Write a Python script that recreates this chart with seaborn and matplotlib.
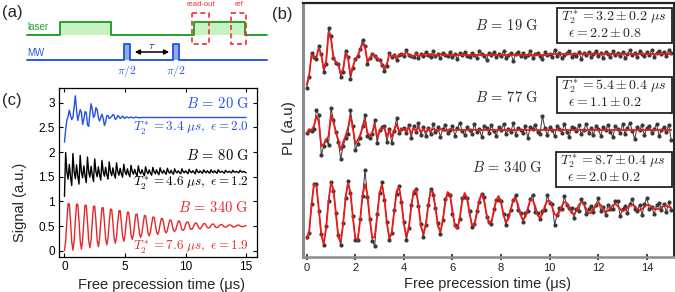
import numpy as np
import pandas as pd
import matplotlib
matplotlib.use("Agg")
import matplotlib.pyplot as plt
import seaborn as sns
from matplotlib.patches import Rectangle, FancyArrowPatch

# ---------------------------------------------------------------- data
# (c) simulated signal, sampled every 0.1 us, 0 .. 15 us
sim_fields = ["20", "80", "340"]
sim_T2 = ["3.4", "4.6", "7.6"]
sim_eps = ["2.0", "1.2", "1.9"]
sim_20G = [
    2.20, 2.45, 2.65, 2.72, 2.85, 2.74, 2.66, 2.70, 2.92, 3.14,
    2.85, 2.64, 2.75, 2.86, 2.80, 2.56, 2.66, 2.82, 2.80, 2.55,
    2.52, 2.78, 2.98, 2.86, 2.70, 2.74, 2.90, 2.86, 2.70, 2.63,
    2.70, 2.77, 2.68, 2.54, 2.60, 2.74, 2.74, 2.68, 2.70, 2.72,
    2.76, 2.74, 2.66, 2.68, 2.74, 2.72, 2.68, 2.70, 2.73, 2.70,
    2.68, 2.71, 2.71, 2.69, 2.70, 2.71, 2.70, 2.69, 2.70, 2.71,
    2.70, 2.70, 2.69, 2.70, 2.70, 2.70, 2.70, 2.70, 2.70, 2.70,
    2.70, 2.70, 2.70, 2.70, 2.70, 2.70, 2.70, 2.70, 2.70, 2.70,
    2.70, 2.70, 2.70, 2.70, 2.70, 2.70, 2.70, 2.70, 2.70, 2.70,
    2.70, 2.70, 2.70, 2.70, 2.70, 2.70, 2.70, 2.70, 2.70, 2.70,
    2.70, 2.70, 2.70, 2.70, 2.70, 2.70, 2.70, 2.70, 2.70, 2.70,
    2.70, 2.70, 2.70, 2.70, 2.70, 2.70, 2.70, 2.70, 2.70, 2.70,
    2.70, 2.70, 2.70, 2.70, 2.70, 2.70, 2.70, 2.70, 2.70, 2.70,
    2.70, 2.70, 2.70, 2.70, 2.70, 2.70, 2.70, 2.70, 2.70, 2.70,
    2.70, 2.70, 2.70, 2.70, 2.70, 2.70, 2.70, 2.70, 2.70, 2.70,
    2.70]
sim_80G = [
    1.10, 1.99, 1.60, 1.45, 1.75, 1.50,
    1.32, 1.97, 1.60, 1.46, 1.74, 1.51,
    1.35, 1.93, 1.60, 1.48, 1.72, 1.52,
    1.38, 1.90, 1.60, 1.49, 1.71, 1.53,
    1.40, 1.86, 1.60, 1.50, 1.70, 1.54,
    1.43, 1.83, 1.60, 1.51, 1.69, 1.54,
    1.45, 1.80, 1.60, 1.52, 1.68, 1.55,
    1.47, 1.78, 1.60, 1.53, 1.67, 1.56,
    1.49, 1.75, 1.60, 1.54, 1.66, 1.56,
    1.50, 1.73, 1.60, 1.55, 1.65, 1.57,
    1.51, 1.72, 1.60, 1.56, 1.64, 1.57,
    1.52, 1.70, 1.60, 1.56, 1.64, 1.57,
    1.53, 1.69, 1.60, 1.56, 1.64, 1.58,
    1.54, 1.68, 1.60, 1.57, 1.63, 1.58,
    1.55, 1.67, 1.60, 1.57, 1.63, 1.58,
    1.55, 1.66, 1.60, 1.58, 1.62, 1.58,
    1.56, 1.66, 1.60, 1.58, 1.62, 1.59,
    1.56, 1.65, 1.60, 1.58, 1.62, 1.59,
    1.56, 1.65, 1.60, 1.58, 1.62, 1.59,
    1.57, 1.64, 1.60, 1.58, 1.62, 1.59,
    1.57, 1.64, 1.60, 1.58, 1.62, 1.59,
    1.57, 1.64, 1.60, 1.59, 1.61, 1.59,
    1.57, 1.63, 1.60, 1.59, 1.61, 1.59,
    1.58, 1.63, 1.60, 1.59, 1.61, 1.59,
    1.58, 1.63, 1.60, 1.59, 1.61, 1.59,
    1.58]
sim_340G = [
    0.00, 0.19, 0.61, 0.95, 0.95, 0.61, 0.19,
    0.01, 0.20, 0.61, 0.94, 0.94, 0.61, 0.20,
    0.03, 0.21, 0.60, 0.92, 0.92, 0.60, 0.21,
    0.06, 0.22, 0.60, 0.90, 0.90, 0.60, 0.22,
    0.08, 0.24, 0.59, 0.87, 0.87, 0.59, 0.24,
    0.12, 0.26, 0.58, 0.84, 0.84, 0.58, 0.26,
    0.15, 0.29, 0.58, 0.81, 0.81, 0.58, 0.29,
    0.19, 0.31, 0.57, 0.78, 0.78, 0.57, 0.31,
    0.23, 0.33, 0.56, 0.74, 0.74, 0.56, 0.33,
    0.27, 0.36, 0.55, 0.71, 0.71, 0.55, 0.36,
    0.30, 0.38, 0.54, 0.68, 0.68, 0.54, 0.38,
    0.33, 0.40, 0.54, 0.65, 0.65, 0.54, 0.40,
    0.36, 0.41, 0.53, 0.62, 0.62, 0.53, 0.41,
    0.39, 0.43, 0.52, 0.60, 0.60, 0.52, 0.43,
    0.41, 0.44, 0.52, 0.58, 0.58, 0.52, 0.44,
    0.43, 0.46, 0.52, 0.56, 0.56, 0.52, 0.46,
    0.44, 0.47, 0.51, 0.55, 0.55, 0.51, 0.47,
    0.46, 0.47, 0.51, 0.54, 0.54, 0.51, 0.47,
    0.47, 0.48, 0.51, 0.53, 0.53, 0.51, 0.48,
    0.48, 0.48, 0.51, 0.52, 0.52, 0.51, 0.48,
    0.48, 0.49, 0.50, 0.52, 0.52, 0.50, 0.49,
    0.49, 0.49, 0.50, 0.51]

# (b) measured PL (a.u., arbitrary zero), sampled every 0.1 us, 0 .. 15 us
meas_fields = ["19", "77", "340"]
meas_T2 = ["3.2 \\pm 0.2", "5.4 \\pm 0.4", "8.7 \\pm 0.4"]
meas_eps = ["2.2 \\pm 0.8", "1.1 \\pm 0.2", "2.0 \\pm 0.2"]
pl_19G = [
    -33, -22, 2, -2, -4, 9, 1, -17, -9, 27,
    19, -3, -8, -9, -22, -17, 4, -2, -24, -13,
    -4, -1, 6, 15, 9, -9, -3, 1, -1, -4,
    -5, -10, -16, -11, 2, -2, 0, -5, 0, 1,
    -1, 5, 0, -1, -2, 2, -3, 1, -1, 3,
    0, -2, 4, -1, 1, -3, 2, 0, -1, 3,
    -2, 1, -4, 2, 0, 3, -1, -2, 2, 0,
    -3, 4, 1, -1, -5, 2, 0, 3, -2, 1,
    -1, 4, -3, 0, 2, -6, 1, 3, -1, 2,
    -2, 0, 4, -3, 1, 2, -1, -4, 3, 0,
    1, -2, 5, -1, 2, -3, 0, 2, 4, -2,
    1, -1, 3, -4, 2, 0, 3, -2, 1, 4,
    -1, 2, -3, 3, 1, -2, 4, 0, 2, -1,
    3, -3, 1, 5, 0, 2, -2, 4, 1, -1,
    3, 0, 5, -2, 2, 4, 1, 3, -1, 5,
    2]
fit_19G = [
    -30, -20, 0, -2, -2, 7, 0, -14, -6, 22,
    16, -2, -7, -9, -19, -14, 2, -3, -20, -12,
    -4, -1, 5, 12, 8, -7, -3, 1, -1, -3,
    -5, -9, -13, -9, 1, -2, 0, -3, 0, 1,
    0, 3, 0, -1, -1, 1, -1, 0, 1, -1,
    0, 1, 0, -1, 0, 1, 0, 0, 0, 0,
    0, 0, 0, 0, 0, 0, 0, 0, 0, 0,
    0, 0, 0, 0, 0, 0, 0, 0, 0, 0,
    0, 0, 0, 0, 0, 0, 0, 0, 0, 0,
    0, 0, 0, 0, 0, 0, 0, 0, 0, 0,
    1, 1, 1, 1, 1, 1, 1, 1, 1, 1,
    1, 1, 1, 1, 1, 1, 1, 1, 1, 1,
    1, 1, 1, 1, 1, 1, 1, 1, 1, 1,
    1, 1, 1, 1, 1, 1, 1, 1, 1, 1,
    1, 1, 1, 1, 1, 1, 1, 1, 1, 1,
    1]
pl_77G = [
    -3, 0, -1, 1, 20, 15, -25, -16, -10, -15,
    22, 10, -2, -12, -29, -16, -8, -4, 20, 4,
    -20, -14, -8, 4, 15, -6, -8, -4, 10, -13,
    0, 3, 4, -12, 1, -13, -1, 12, -3, 1,
    2, -3, 5, -8, 4, -2, 7, -5, 3, -6,
    2, -4, 6, -2, 3, -7, 1, 5, -3, 0,
    4, -6, 2, 7, -1, -5, 3, 0, -4, 6,
    -2, 1, -7, 4, 2, -3, 5, -1, -6, 3,
    0, 6, -4, 1, -2, 7, -5, 2, 0, -3,
    4, -8, 3, 1, 5, -2, -4, 14, 2, -5,
    3, 0, -6, 4, 1, -3, 6, -2, -7, 3,
    2, -1, 5, -4, 0, 6, -3, 2, -5, 4,
    1, -6, 3, 0, 5, -2, -7, 4, 1, -3,
    6, -4, 2, 7, -1, -9, 3, 0, 5, -5,
    2, 4, -3, 1, 6, -6, 0, 3, -2, 5,
    -10]
fit_77G = [
    -3, 0, 0, 4, 14, 8, -16, -14, -10, -6,
    15, 8, -2, -10, -20, -12, -6, 2, 14, 2,
    -14, -10, -5, 3, 10, -3, -6, -2, 6, -8,
    -1, 2, 2, -7, 0, -7, 0, 6, -2, 1,
    1, -2, 3, -4, 2, -1, 3, -2, 1, -2,
    1, -1, 1, 0, -1, 1, 0, -1, 0, 1,
    0, 0, 0, 0, 0, 0, 0, 0, 0, 0,
    0, 0, 0, 0, 0, 0, 0, 0, 0, 0,
    0, 0, 0, 0, 0, 0, 0, 0, 0, 0,
    0, 0, 0, 0, 0, 0, 0, 0, 0, 0,
    0, 0, 0, 0, 0, 0, 0, 0, 0, 0,
    0, 0, 0, 0, 0, 0, 0, 0, 0, 0,
    0, 0, 0, 0, 0, 0, 0, 0, 0, 0,
    0, 0, 0, 0, 0, 0, 0, 0, 0, 0,
    0, 0, 0, 0, 0, 0, 0, 0, 0, 0,
    0]
pl_340G = [
    -30, -26, 3, 23, 23, -4, -27, -38, -19, 6,
    25, 16, -6, -28, -38, -16, 9, 26, 14, -9,
    -33, -33, -12, 11, 37, 10, -12, -34, -39, -7,
    14, 25, 7, -15, -33, -26, -3, 13, 21, 5,
    -15, -33, -21, 2, 14, 18, 1, -17, -30, -18,
    2, 18, 12, -1, -16, -27, -13, 8, 13, 12,
    -7, -18, -20, -12, 9, 10, 9, -4, -20, -17,
    -4, 5, 13, 10, -10, -15, -17, -2, 7, 7,
    6, -7, -18, -8, -3, 7, 12, -3, -6, -15,
    -6, -4, 8, 12, -5, -6, -12, -4, -3, 12,
    4, 3, -18, -8, -1, -2, 11, 2, -1, -1,
    -11, -2, -4, 8, 4, -7, -2, 1, -5, 2,
    9, -4, 0, -8, 2, -2, -2, 6, 6, -9,
    -2, 1, -6, 3, 8, -2, -4, 2, -8, 3,
    9, -2, 0, -7, 2, 4, -3, 3, -5, 5,
    -3]
fit_340G = [
    -32, -25, 2, 23, 21, -2, -28, -37, -21, 6,
    24, 18, -6, -30, -35, -17, 9, 24, 15, -10,
    -31, -33, -13, 12, 23, 12, -13, -31, -30, -9,
    14, 22, 8, -16, -31, -26, -5, 16, 20, 5,
    -17, -29, -22, -1, 16, 17, 2, -19, -27, -18,
    1, 16, 15, -1, -19, -25, -14, 4, 15, 12,
    -4, -19, -22, -11, 6, 14, 9, -6, -18, -18,
    -7, 7, 13, 6, -7, -16, -15, -5, 7, 11,
    4, -8, -15, -12, -2, 7, 9, 2, -8, -13,
    -10, -1, 7, 7, 1, -8, -11, -7, 1, 6,
    6, 0, -7, -9, -5, 1, 5, 4, -1, -6,
    -7, -4, 2, 5, 3, -2, -6, -6, -2, 2,
    4, 2, -2, -5, -4, -1, 2, 3, 1, -2,
    -4, -3, -1, 2, 2, 1, -2, -3, -2, 0,
    2, 2, 0, -2, -2, -2, 0, 1, 1, 0,
    -1]
meas_offsets = [202, 127, 50]   # vertical stacking of the three traces

# (a) pulse sequence (schematic, time units of the sketch)
laser_pulses = [(60, 111), (194, 245)]
mw_pulses = [(124, 130), (173, 179)]
readout_windows = [("read-out", 192, 209), ("ref", 231, 246)]

# ---------------------------------------------------------------- style
sns.set_theme(style="white")
plt.rcParams['font.family'] = ['Liberation Sans', 'DejaVu Sans']
plt.rcParams['mathtext.fontset'] = 'cm'

W, H = 675, 292
fig = plt.figure(figsize=(W / 100, H / 100), dpi=100)


def axes_px(l, t, r, b):
    return fig.add_axes([l / W, 1 - b / H, (r - l) / W, (b - t) / H])


def ftext(x, y, s, **kw):
    return fig.text(x / W, 1 - y / H, s, **kw)


BLUE = "#2450e6"
RED_C = "#e8262a"
GREEN = "#22a32a"
MWBLUE = "#2a5ae0"
RED_FIT = "#ee1a1a"
DOT = "#393939"

t = np.round(np.arange(151) * 0.1, 1)

# ---------------------------------------------------------------- (a)
ax_a = fig.add_axes([0, 1 - 80 / H, 270 / W, 80 / H])
ax_a.set_xlim(0, 270)
ax_a.set_ylim(80, 0)
ax_a.axis("off")

lx, ly = [27], [35]
for s, e in laser_pulses:
    lx += [s, s, e, e]
    ly += [35, 22, 22, 35]
    ax_a.add_patch(Rectangle((s, 22), e - s, 13, fc="#c8f3c0", ec="none", zorder=1))
lx.append(267); ly.append(35)
ax_a.plot(lx, ly, color=GREEN, lw=1.4, zorder=2)

mx, my = [27], [60]
for s, e in mw_pulses:
    mx += [s, s, e, e]
    my += [60, 44, 44, 60]
    ax_a.add_patch(Rectangle((s, 44), e - s, 16, fc="#8fa9f2", ec="none", zorder=1))
mx.append(267); my.append(60)
ax_a.plot(mx, my, color=MWBLUE, lw=1.4, zorder=2)

for name, s, e in readout_windows:
    ax_a.add_patch(Rectangle((s, 13), e - s, 31, fill=False, ec="#f03030",
                             ls=(0, (3, 2)), lw=1.2, zorder=3))
    ax_a.text((s + e) / 2, 5, name, color="#f03030", fontsize=5.5,
              ha="center", va="center")

ax_a.text(27, 27, "laser", color=GREEN, fontsize=7, ha="left", va="center")
ax_a.text(27, 53, "MW", color=MWBLUE, fontsize=7, ha="left", va="center")
ax_a.add_patch(FancyArrowPatch((132, 52), (172, 52), arrowstyle="<|-|>",
                               mutation_scale=7, color="black", lw=1.1))
ax_a.text(152, 46, r"$\tau$", fontsize=8, ha="center", va="center")
for s, e in mw_pulses:
    ax_a.text((s + e) / 2, 71, r"$\pi/2$", color=MWBLUE, fontsize=8.5,
              ha="center", va="center")
ax_a.text(12, 13, "(a)", fontsize=12, ha="center", va="center")

# ---------------------------------------------------------------- (c)
ax_c = axes_px(59, 88, 257, 257)
for vals, col in zip([sim_20G, sim_80G, sim_340G], [BLUE, "black", RED_C]):
    df = pd.DataFrame({"t": t, "signal": vals})
    sns.lineplot(data=df, x="t", y="signal", ax=ax_c, color=col, lw=1.0,
                 estimator=None, sort=False)
ax_c.set_xlim(-0.45, 15.9)
ax_c.set_ylim(-0.128, 3.298)
ax_c.set_xticks([0, 5, 10, 15])
ax_c.set_yticks([0, 0.5, 1, 1.5, 2, 2.5, 3])
ax_c.set_yticklabels(["0", "0.5", "1", "1.5", "2", "2.5", "3"])
ax_c.tick_params(direction="in", length=3, width=0.8, labelsize=8.5,
                 top=True, right=True, bottom=True, left=True, pad=3,
                 colors="black")
for sp in ax_c.spines.values():
    sp.set_color("black")
    sp.set_linewidth(0.9)
ax_c.set_xlabel("")
ax_c.set_ylabel("")
ftext(162, 285, "Free precession time (μs)", fontsize=10.5, ha="center", va="center")
ftext(20, 202, "Signal (a.u.)", fontsize=10.5, ha="center", va="center", rotation=90)
ftext(12, 101, "(c)", fontsize=12, ha="center", va="center")

c_cols = [BLUE, "black", RED_C]
c_ys = [(103, 128), (156, 183), (208, 247)]
for f, T2, ep, col, (yb, yt) in zip(sim_fields, sim_T2, sim_eps, c_cols, c_ys):
    ftext(249, yb, r"$B\,=\,%s\ \mathrm{G}$" % f, color=col, fontsize=10.5,
          ha="right", va="center")
    ftext(249, yt, r"$T_2^*=%s\ \mu s,\ \epsilon=%s$" % (T2, ep), color=col,
          fontsize=9.5, ha="right", va="center")

# ---------------------------------------------------------------- (b)
ax_b = axes_px(303, 3, 674, 257)
for vals, fit, off in zip([pl_19G, pl_77G, pl_340G],
                          [fit_19G, fit_77G, fit_340G], meas_offsets):
    df = pd.DataFrame({"t": t, "PL": np.array(vals) + off,
                       "fit": np.array(fit) + off})
    sns.lineplot(data=df, x="t", y="PL", ax=ax_b, color=DOT, lw=0.7,
                 marker="o", markersize=3.0, markeredgewidth=0,
                 estimator=None, sort=False)
    sns.lineplot(data=df, x="t", y="fit", ax=ax_b, color=RED_FIT, lw=1.3,
                 estimator=None, sort=False)
ax_b.set_xlim(-0.152, 15.115)
ax_b.set_ylim(0, 254)
ax_b.set_xticks(range(0, 15, 2))
ax_b.set_yticks([])
ax_b.tick_params(axis="x", direction="inout", length=5, width=1.2,
                 labelsize=8, bottom=True, pad=2, colors="#222222")
ax_b.spines["left"].set_color("#8c8c8c")
ax_b.spines["left"].set_linewidth(2.2)
ax_b.spines["bottom"].set_color("#8c8c8c")
ax_b.spines["bottom"].set_linewidth(1.8)
ax_b.spines["top"].set_color("#222222")
ax_b.spines["top"].set_linewidth(1.6)
ax_b.spines["right"].set_color("#222222")
ax_b.spines["right"].set_linewidth(1.4)
ax_b.set_xlabel("")
ax_b.set_ylabel("")
ftext(488, 284, "Free precession time (μs)", fontsize=10.5, ha="center", va="center")
ftext(289, 128, "PL (a.u)", fontsize=11, ha="center", va="center", rotation=90)
ftext(282, 14, "(b)", fontsize=12, ha="center", va="center")

b_label_y = [25, 97, 167]
b_boxes = [(557, 8, 672, 43), (557, 77, 672, 113), (556, 152, 672, 187)]
for f, T2, ep, yl, (x0, y0, x1, y1) in zip(meas_fields, meas_T2, meas_eps,
                                          b_label_y, b_boxes):
    ftext(507, yl, r"$B\,=\,%s\ \mathrm{G}$" % f, fontsize=10.5,
          ha="center", va="center")
    fig.add_artist(Rectangle((x0 / W, 1 - y1 / H), (x1 - x0) / W, (y1 - y0) / H,
                             transform=fig.transFigure, fill=True, fc="white",
                             ec="#111111", lw=1.2, zorder=5))
    ftext(x0 + 4, y0 + 9, r"$T_2^*=%s\ \mu s$" % T2, fontsize=10,
          ha="left", va="center", zorder=6)
    ftext(x0 + 11, y0 + 25, r"$\epsilon=%s$" % ep, fontsize=10,
          ha="left", va="center", zorder=6)

fig.savefig("out.png", dpi=100)
